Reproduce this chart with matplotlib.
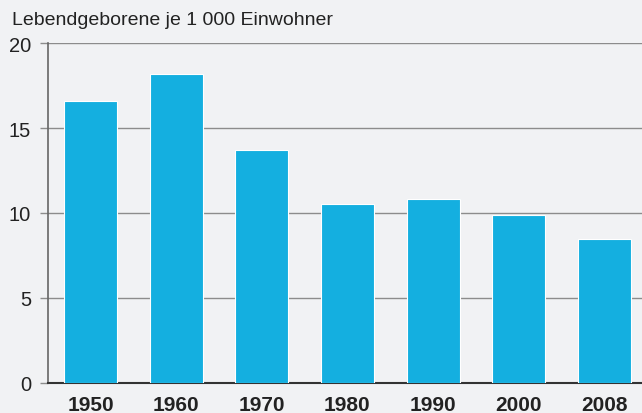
import numpy as np
import matplotlib
matplotlib.use("Agg")
from matplotlib import pyplot as plt

years = ["1950", "1960", "1970", "1980", "1990", "2000", "2008"]
births = [16.6, 18.2, 13.7, 10.5, 10.8, 9.9, 8.45]
yticks = [0, 5, 10, 15, 20]

bg = "#f1f2f4"
bar_color = "#14afe0"

plt.rcParams['font.family'] = ['Liberation Sans', 'DejaVu Sans']

fig = plt.figure(figsize=(6.42, 4.14), dpi=100, facecolor=bg)
ax = fig.add_axes([0.0743, 0.0725, 1 - 0.0743, 0.8937 - 0.0725])
ax.set_facecolor(bg)

x = np.arange(len(years))
ax.bar(x, births, width=0.62, color=bar_color, edgecolor="white", linewidth=0.8, zorder=3)

ax.set_xlim(-0.5, 6.44)
ax.set_ylim(0, 20)
ax.set_yticks(yticks)
ax.set_yticklabels([str(v) for v in yticks], fontsize=14.5, color="#222222")
ax.set_xticks(x)
ax.set_xticklabels(years, fontsize=15, fontweight="bold", color="#222222")

ax.grid(axis="y", color="#8c8c8c", linewidth=1.0, zorder=0)
ax.tick_params(axis="y", length=6, width=1, color="#8c8c8c", pad=6)
ax.tick_params(axis="x", length=0, pad=9)

for s in ["top", "right"]:
    ax.spines[s].set_visible(False)
ax.spines["left"].set_color("#666666")
ax.spines["left"].set_linewidth(1.2)
ax.spines["bottom"].set_color("#333333")
ax.spines["bottom"].set_linewidth(1.5)

fig.text(0.019, 0.950, "Lebendgeborene je 1 000 Einwohner", fontsize=14,
         color="#222222", va="center", ha="left")

fig.savefig("out.png", dpi=100, facecolor=bg)
